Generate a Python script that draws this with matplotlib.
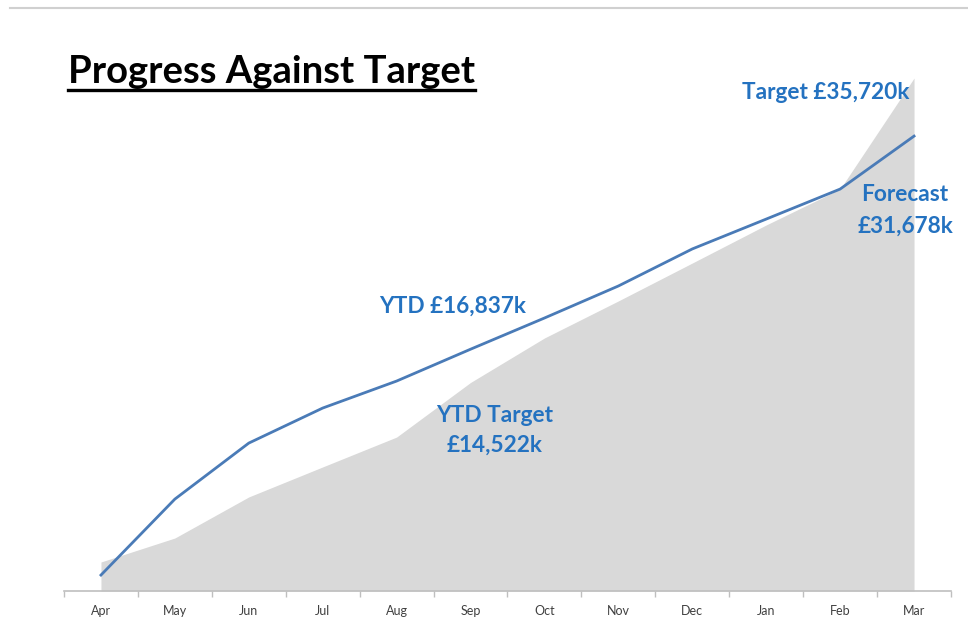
import numpy as np
import matplotlib; matplotlib.use("Agg"); import matplotlib.pyplot as plt
from matplotlib.lines import Line2D

months = ["Apr","May","Jun","Jul","Aug","Sep","Oct","Nov","Dec","Jan","Feb","Mar"]
actual = [1110, 6400, 10300, 12740, 14620, 16837, 19010, 21240, 23820, 25900, 27990, 31678]
target = [2020, 3690, 6550, 8640, 10720, 14522, 17620, 20200, 22840, 25490, 27990, 35720]

BLUE_LINE = "#4a7bb7"; BLUE_TXT = "#2472c0"; GREY = "#d9d9d9"; AXC = "#bfbfbf"
plt.rcParams.update({"font.family": ["Lato", "DejaVu Sans"]})

W, H = 968, 624
fig = plt.figure(figsize=(W/100, H/100), dpi=100)
fig.patch.set_facecolor("white")
ax = fig.add_axes([64/W, (H-591)/H, (951-64)/W, (591-20)/H])
x = np.arange(len(months))
ax.fill_between(x, target, 0, color=GREY, lw=0, zorder=1)
ax.plot(x, actual, color=BLUE_LINE, lw=2, zorder=3)

ax.set_xlim(-0.5, 11.5)
ax.set_ylim(0, (591-20)/0.01436)
for s in ("top", "right", "left"):
    ax.spines[s].set_visible(False)
ax.spines["bottom"].set_color(AXC); ax.spines["bottom"].set_linewidth(1.2)
ax.set_yticks([])
ax.set_xticks(x); ax.set_xticklabels(months, fontsize=9, color="#404040")
ax.tick_params(axis="x", which="major", length=0, pad=10)
ax.set_xticks(np.arange(-0.5, 12, 1), minor=True)
ax.tick_params(axis="x", which="minor", length=4, color=AXC, width=1)

kw = dict(color=BLUE_TXT, fontweight="bold", fontsize=16.3, ha="center", va="center")
ax.text(9.80, 34680, f"Target £{target[-1]:,}k", **kw)
ax.text(10.88, 27577, "Forecast", **kw)
ax.text(10.88, 25418, f"£{actual[-1]:,}k", **kw)
ax.text(4.75, 19847, f"YTD £{actual[5]:,}k", **kw)
ax.text(5.32, 12256, "YTD Target", **kw)
ax.text(5.32, 10167, f"£{target[5]:,}k", **kw)

t = fig.text(68/W, 1-72/H, "Progress Against Target", fontsize=27.5, fontweight="bold",
             color="black", ha="left", va="center")
fig.canvas.draw()
bb = t.get_window_extent()
fig.add_artist(Line2D([bb.x0/W, bb.x1/W], [(bb.y0-1)/H, (bb.y0-1)/H], color="black", lw=2.4))
fig.add_artist(Line2D([10/W, 1], [1-8/H, 1-8/H], color="#d0d0d0", lw=1.5))

fig.savefig("out.png", dpi=100)
